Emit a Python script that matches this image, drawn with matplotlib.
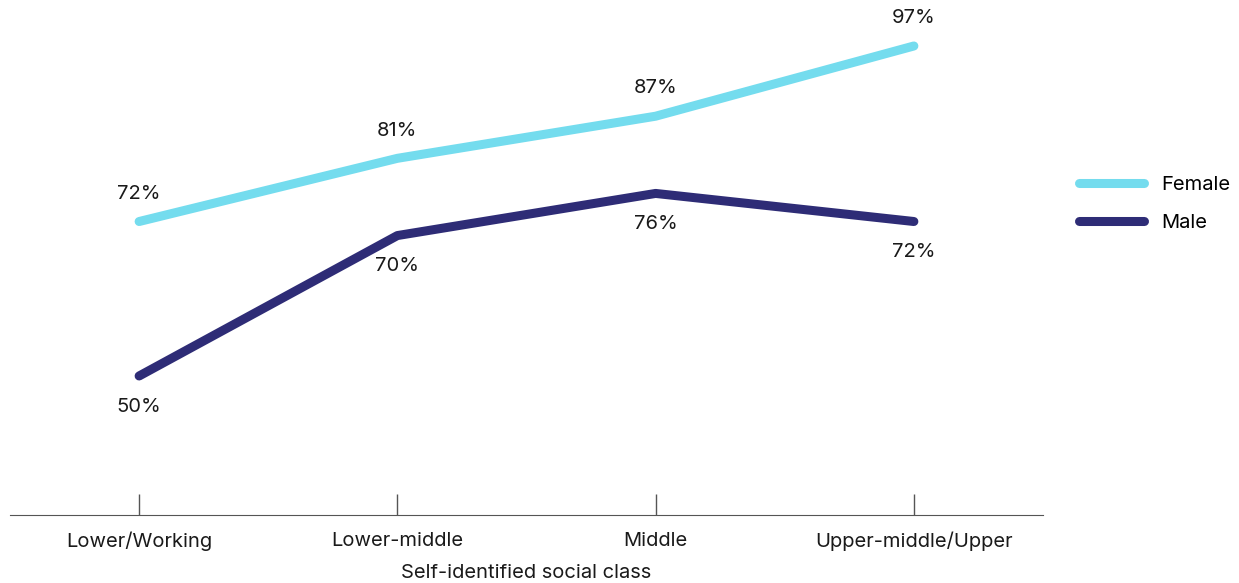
import matplotlib.pyplot as plt

plt.rcParams['font.family'] = ['Inter', 'DejaVu Sans']

classes = ["Lower/Working", "Lower-middle", "Middle", "Upper-middle/Upper"]
female = [72, 81, 87, 97]
male = [50, 70, 76, 72]

FEMALE_COLOR = '#74DCEE'
MALE_COLOR = '#2E2C76'
TEXT = '#1a1a1a'
FS = 14.5

fig = plt.figure(figsize=(12.39, 5.83), dpi=100)
ax = fig.add_axes([10 / 1239, 68 / 583, 1033 / 1239, 515 / 583])

x = range(len(classes))
ax.plot(x, female, color=FEMALE_COLOR, lw=6.5, solid_capstyle='round', label='Female')
ax.plot(x, male, color=MALE_COLOR, lw=6.5, solid_capstyle='round', label='Male')

# percentage labels: above the female line, below the male line
for i, v in enumerate(female):
    ax.annotate(f"{v}%", (i, v), xytext=(0, 20), textcoords='offset points',
                ha='center', va='center', fontsize=FS, color=TEXT)
for i, v in enumerate(male):
    ax.annotate(f"{v}%", (i, v), xytext=(0, -22), textcoords='offset points',
                ha='center', va='center', fontsize=FS, color=TEXT)

ax.set_xlim(-0.5, 3.5)
ax.set_ylim(30.2, 103.55)
ax.set_xticks(list(x))
ax.set_xticklabels(classes, fontsize=FS, color=TEXT)
ax.tick_params(axis='x', direction='in', length=15, width=1, color='#555555', pad=12)
ax.set_yticks([])
for side in ('top', 'right', 'left'):
    ax.spines[side].set_visible(False)
ax.spines['bottom'].set_color('#555555')
ax.set_xlabel("Self-identified social class", fontsize=FS, color=TEXT, labelpad=9)

fig.legend(loc='center left', bbox_to_anchor=(1061 / 1239, 1 - 204 / 583), frameon=False,
           fontsize=FS, handlelength=3.2, handletextpad=0.9, labelspacing=1.0)

fig.savefig('out.png', dpi=100)
